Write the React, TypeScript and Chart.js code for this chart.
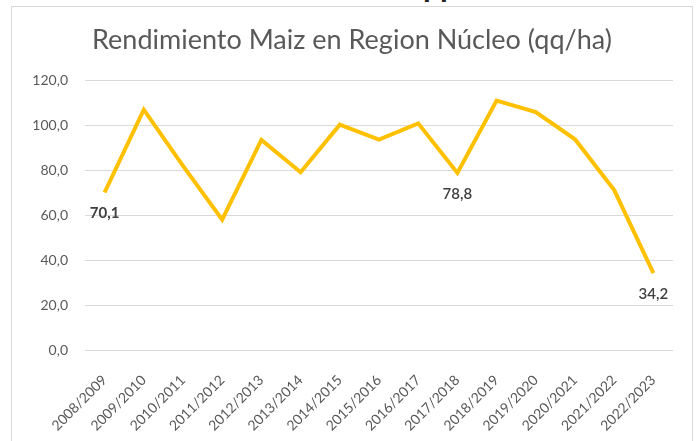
import React, { useEffect, useRef } from "react";
import { Chart, registerables } from "chart.js";

Chart.register(...registerables);

const categories = [
  "2008/2009", "2009/2010", "2010/2011", "2011/2012", "2012/2013",
  "2013/2014", "2014/2015", "2015/2016", "2016/2017", "2017/2018",
  "2018/2019", "2019/2020", "2020/2021", "2021/2022", "2022/2023",
];
const rendimiento = [70.1, 107.0, 82.0, 58.0, 93.5, 79.1, 100.3, 93.6, 100.9, 78.8, 111.0, 105.9, 93.8, 71.2, 34.2];
const labeledIndices = [0, 9, 14];
const boldLabelIndices = [0];
const yTicks = [0, 20, 40, 60, 80, 100, 120];
const titleText = "Rendimiento Maiz en Region Núcleo (qq/ha)";

const fmt = (v: number) => v.toFixed(1).replace(".", ",");

const dataLabelPlugin = {
  id: "dataLabels",
  afterDatasetsDraw(chart: any) {
    const meta = chart.getDatasetMeta(0);
    const ctx = chart.ctx;
    ctx.save();
    ctx.fillStyle = "#404040";
    ctx.textAlign = "center";
    ctx.textBaseline = "middle";
    labeledIndices.forEach((i) => {
      const el = meta.data[i];
      if (!el) return;
      ctx.font = (boldLabelIndices.includes(i) ? "bold " : "600 ") + "15px Lato";
      ctx.fillText(fmt(rendimiento[i]), el.x, el.y + 21);
    });
    ctx.restore();
  },
};

export default function App() {
  const ref = useRef<HTMLCanvasElement>(null);
  useEffect(() => {
    if (!ref.current) return;
    const chart = new Chart(ref.current, {
      type: "line",
      data: {
        labels: categories,
        datasets: [
          {
            data: rendimiento,
            borderColor: "#FFC000",
            borderWidth: 4,
            pointRadius: 0,
            pointHoverRadius: 0,
            tension: 0,
            fill: false,
          },
        ],
      },
      options: {
        animation: false,
        responsive: false,
        events: [],
        layout: { padding: { left: 19, right: 19, top: 0, bottom: 0 } },
        plugins: {
          legend: { display: false },
          tooltip: { enabled: false },
          title: {
            display: true,
            text: titleText,
            color: "#595959",
            font: { family: "Lato", size: 27, weight: "normal", lineHeight: 1.2 },
            padding: { top: 17, bottom: 24 },
          },
        },
        scales: {
          x: {
            offset: true,
            grid: { display: false, drawTicks: false },
            border: { display: false },
            ticks: {
              color: "#595959",
              font: { family: "Lato", size: 14 },
              minRotation: 45,
              maxRotation: 45,
              autoSkip: false,
              padding: 22,
            },
            afterFit(scale: any) {
              scale.height = 92;
            },
          },
          y: {
            min: 0,
            max: 120,
            afterBuildTicks(scale: any) {
              scale.ticks = yTicks.map((v) => ({ value: v }));
            },
            grid: { color: "#d9d9d9", lineWidth: 1, drawTicks: false },
            border: { display: false },
            ticks: {
              color: "#595959",
              font: { family: "Lato", size: 14 },
              padding: 17,
              callback: (v: any) => fmt(Number(v)),
            },
            afterFit(scale: any) {
              scale.width = 54;
            },
          },
        },
      },
      plugins: [dataLabelPlugin],
    });
    return () => chart.destroy();
  }, []);

  return (
    <div
      style={{
        position: "absolute",
        left: 0,
        top: 0,
        width: 697,
        height: 441,
        overflow: "hidden",
        background: "#ffffff",
      }}
    >
      <div
        style={{
          position: "absolute",
          left: 423,
          top: -27,
          font: "bold 28px 'Liberation Sans'",
          lineHeight: "28px",
          color: "#222",
          whiteSpace: "nowrap",
        }}
      >
        pp
      </div>
      <div
        style={{
          position: "absolute",
          left: 11,
          top: 6,
          width: 680,
          height: 460,
          border: "1px solid #d9d9d9",
          background: "#ffffff",
        }}
      />
      <canvas
        ref={ref}
        width={680}
        height={435}
        style={{ position: "absolute", left: 12, top: 7, width: 680, height: 435 }}
      />
    </div>
  );
}
